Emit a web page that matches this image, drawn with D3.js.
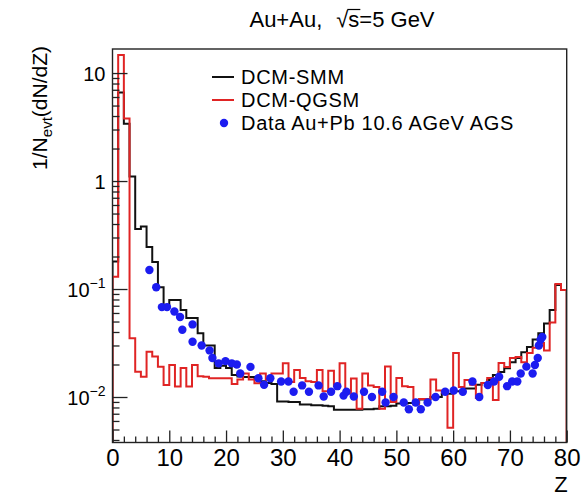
<!DOCTYPE html>
<html><head><meta charset="utf-8">
<script src="https://cdn.jsdelivr.net/npm/d3@7"></script>
<style>
body{margin:0;background:#fff}
text{font-family:"Liberation Sans",Arial,Helvetica,sans-serif;fill:#000}
</style>
</head><body>
<svg id="c" width="584" height="496"></svg>
<script>
// ---- data ----
const zLow = d3.range(0, 80);           // bin lower edges (bin width 1)
const smm = [0.18,6.6,3.4,1.1,0.36,0.38,0.245,0.178,0.104,0.068,
  0.079,0.079,0.064,0.054,0.054,0.039,0.030,0.030,0.0186,0.0195,
  0.0186,0.016,0.0155,0.0153,0.0153,0.0150,0.0140,0.0135,0.0132,0.0091,
  0.0091,0.0090,0.0090,0.0085,0.0085,0.0084,0.0084,0.0083,0.0082,0.0076,
  0.0076,0.0076,0.0076,0.0076,0.0077,0.0077,0.0078,0.0082,0.0082,0.0083,
  0.0087,0.0087,0.0088,0.0088,0.0095,0.0095,0.0100,0.0100,0.0107,0.0107,
  0.0113,0.0113,0.0120,0.0120,0.0130,0.0135,0.0144,0.0160,0.0170,0.0185,
  0.0210,0.0230,0.0260,0.0290,0.0340,0.0390,0.0480,0.0640,0.1090,0.0980];
const qgsm = [0.13,14.7,3.8,0.035,0.0171,0.0154,0.0263,0.0237,0.0191,0.0129,
  0.0198,0.0125,0.0186,0.0125,0.0198,0.0156,0.0154,0.0149,0.0149,0.0149,
  0.0149,0.0132,0.0145,0.0165,0.0145,0.0134,0.0165,0.0145,0.0165,0.0165,
  0.0205,0.0138,0.0178,0.0150,0.0140,0.0138,0.0178,0.0113,0.0175,0.0126,
  0.0205,0.0108,0.0148,0.0078,0.0165,0.0128,0.0124,0.0078,0.0192,0.0090,
  0.0150,0.0126,0.0124,0.0085,0.0096,0.0096,0.0145,0.0115,0.0110,0.0052,
  0.0256,0.0124,0.0144,0.0130,0.0098,0.0135,0.0150,0.0094,0.0206,0.0190,
  0.0230,0.0235,0.0210,0.0256,0.0286,0.0316,0.0270,0.0490,0.1110,0.0980];
const dataZ = [6.5,7.7,8.7,9.6,10.9,11.9,12.3,14.1,14.1,15.7,
  17.1,17.6,18.7,19.9,21.0,21.9,22.5,24.3,25.7,26.7,
  27.8,29.7,31.0,31.9,33.4,34.6,36.3,37.2,38.5,39.6,
  40.7,41.2,42.5,44.3,45.7,47.5,48.1,49.5,51.3,52.2,
  53.4,54.3,55.5,56.9,58.6,60.1,61.7,63.4,64.6,66.1,
  67.2,68.1,69.5,70.4,71.3,71.9,72.9,74.0,74.4,74.9,
  75.1,75.4,75.7];
const dataV = [0.15,0.104,0.068,0.068,0.062,0.055,0.042,0.047,0.0325,0.030,
  0.027,0.023,0.0205,0.0215,0.0205,0.0200,0.0165,0.019,0.0149,0.013,
  0.0149,0.0139,0.0139,0.0112,0.0128,0.0112,0.0128,0.0101,0.0112,0.0126,
  0.0103,0.0112,0.0101,0.0112,0.0100,0.0112,0.0089,0.0100,0.0089,0.0077,
  0.0089,0.0077,0.0089,0.0100,0.0112,0.0115,0.0112,0.0139,0.0100,0.0129,
  0.0139,0.0154,0.0126,0.0139,0.0139,0.0165,0.0191,0.0165,0.0198,0.023,
  0.030,0.034,0.036];
const xTickValues = [0,10,20,30,40,50,60,70,80];
const yTickValues = [0.01,0.1,1,10];
const yTickLabels = [["10","\u22122"],["10","\u22121"],["1",""],["10",""]];
const legendLabels = ["DCM-SMM","DCM-QGSM","Data Au+Pb 10.6 AGeV AGS"];
const colors = {smm:"#111111", qgsm:"#e02424", data:"#1c1cf0"};

// ---- layout ----
const M = {l:112.5, r:566.7, t:49, b:442.5};
const svg = d3.select("#c");
const x = d3.scaleLinear().domain([0,80]).range([M.l, M.r]);
const y = d3.scaleLog().domain([0.00379, 16.7]).range([M.b, M.t]);

svg.append("defs").append("clipPath").attr("id","clip")
  .append("rect").attr("x",M.l).attr("y",M.t).attr("width",M.r-M.l).attr("height",M.b-M.t);

// histograms
function histPath(vals){
  let p = `M${x(zLow[0])},${M.b}`;
  vals.forEach((v,i)=>{ p += `V${y(v)}H${x(zLow[i]+1)}`; });
  p += `V${M.b}`;
  return p;
}
const plot = svg.append("g").attr("clip-path","url(#clip)");
plot.append("path").attr("d",histPath(smm)).attr("fill","none")
  .attr("stroke",colors.smm).attr("stroke-width",2);
plot.append("path").attr("d",histPath(qgsm)).attr("fill","none")
  .attr("stroke",colors.qgsm).attr("stroke-width",2);
plot.selectAll("circle.d").data(dataZ).join("circle").attr("class","d")
  .attr("cx",(d)=>x(d)).attr("cy",(d,i)=>y(dataV[i])).attr("r",4.2)
  .attr("fill",colors.data);

// frame
svg.append("rect").attr("x",M.l).attr("y",M.t).attr("width",M.r-M.l).attr("height",M.b-M.t)
  .attr("fill","none").attr("stroke","#222").attr("stroke-width",1.4);

// x axis
const xMinor = d3.range(0,81,2).filter(v=>v%10!==0);
const gx = svg.append("g").attr("transform",`translate(0,${M.b})`)
  .call(d3.axisBottom(x).tickValues(xTickValues).tickSize(-12).tickSizeOuter(0).tickPadding(0));
gx.select(".domain").remove();
gx.selectAll("line").attr("stroke","#222").attr("stroke-width",1.3);
gx.selectAll("text").attr("y",23).attr("dy",0).style("font-size","24px").attr("fill","#000");
const gx2 = svg.append("g").attr("transform",`translate(0,${M.b})`)
  .call(d3.axisBottom(x).tickValues(xMinor).tickSize(-6).tickSizeOuter(0).tickFormat(""));
gx2.select(".domain").remove();
gx2.selectAll("line").attr("stroke","#222").attr("stroke-width",1.3);

// y axis
const yMinor = [];
[-3,-2,-1,0,1].forEach(k=>{ for(let m=2;m<=9;m++){ const v=m*Math.pow(10,k); if(v>=0.00379 && v<=16.7) yMinor.push(v);} });
const gy = svg.append("g").attr("transform",`translate(${M.l},0)`)
  .call(d3.axisLeft(y).tickValues(yTickValues).tickSize(-15).tickSizeOuter(0).tickPadding(0).tickFormat(""));
gy.select(".domain").remove();
gy.selectAll("line").attr("stroke","#222").attr("stroke-width",1.3);
gy.selectAll(".tick").each(function(d,i){
  const lab = yTickLabels[i];
  const t = d3.select(this).append("text").attr("text-anchor","end").attr("x",-7).attr("y",7)
    .style("font-size","20px");
  t.append("tspan").text(lab[0]);
  if(lab[1]) t.append("tspan").attr("dy",-9).style("font-size","14px").text(lab[1]);
});
const gy2 = svg.append("g").attr("transform",`translate(${M.l},0)`)
  .call(d3.axisLeft(y).tickValues(yMinor).tickSize(-7).tickSizeOuter(0).tickFormat(""));
gy2.select(".domain").remove();
gy2.selectAll("line").attr("stroke","#222").attr("stroke-width",1.3);

// axis titles
svg.append("text").attr("x",561).attr("y",492).attr("text-anchor","middle")
  .style("font-size","22px").text("Z");
const yt = svg.append("text").attr("transform","translate(47,46) rotate(-90)")
  .attr("text-anchor","end").style("font-size","21px");
yt.append("tspan").text("1/N");
yt.append("tspan").attr("dy",5).style("font-size","15px").text("evt");
yt.append("tspan").attr("dy",-5).text("(dN/dZ)");

// title
const tg = svg.append("g");
const t1 = tg.append("text").attr("x",0).attr("y",27).style("font-size","22px").text("Au+Au,");
const w1 = t1.node().getComputedTextLength();
const sq = tg.append("text").attr("x",w1+14).attr("y",27).style("font-size","22px").text("\u221A");
const wsq = sq.node().getComputedTextLength();
const t2 = tg.append("text").attr("x",w1+14+wsq).attr("y",27).style("font-size","22px").text("s=5 GeV");
const ws = tg.append("text").attr("x",-1000).attr("y",-100).style("font-size","22px").text("s");
const wS = ws.node().getComputedTextLength(); ws.remove();
tg.append("line").attr("x1",w1+14+wsq-1).attr("x2",w1+14+wsq+wS+1).attr("y1",9.5).attr("y2",9.5)
  .attr("stroke","#000").attr("stroke-width",1.2);
const totalW = w1+14+wsq+t2.node().getComputedTextLength();
tg.attr("transform",`translate(${342-totalW/2},0)`);

// legend
const leg = svg.append("g");
const rows = [77,100,123];
leg.append("line").attr("x1",212).attr("x2",234).attr("y1",rows[0]).attr("y2",rows[0]).attr("stroke",colors.smm).attr("stroke-width",2);
leg.append("line").attr("x1",212).attr("x2",234).attr("y1",rows[1]).attr("y2",rows[1]).attr("stroke",colors.qgsm).attr("stroke-width",2);
leg.append("circle").attr("cx",224).attr("cy",rows[2]).attr("r",4.2).attr("fill",colors.data);
legendLabels.forEach((s,i)=>{
  leg.append("text").attr("x",241).attr("y",rows[i]+7).style("font-size","20px")
    .style("letter-spacing","0.7px").text(s);
});
</script>
</body></html>
